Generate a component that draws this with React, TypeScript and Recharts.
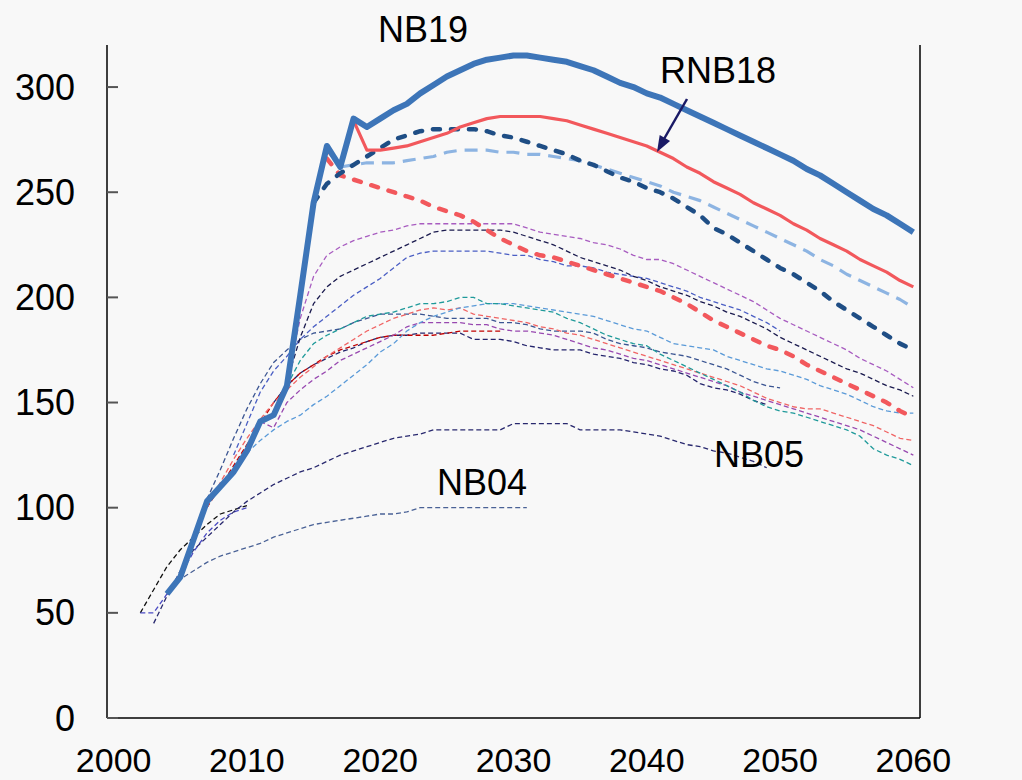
import React from 'react';
import { LineChart, Line, XAxis, YAxis } from 'recharts';

const W = 1022;
const H = 780;
const FONT = '"Liberation Sans", Arial, sans-serif';

// Tick labels
const xTicks = [2000, 2010, 2020, 2030, 2040, 2050, 2060];
const yTicks = [0, 50, 100, 150, 200, 250, 300];

// Thick series
const nb19Start = 2004;
const nb19 = [
  59, 67, 85, 103, 110, 117, 127, 141, 144, 158, 201, 245, 272, 262, 285, 281,
  285, 289, 292, 297, 301, 305, 308, 311, 313, 314,
  315, 315, 314, 313, 312, 310, 308, 305, 302, 300,
  297, 295, 292, 289, 286, 283, 280, 277, 274, 271,
  268, 265, 261, 258, 254, 250, 246, 242, 239, 235, 231,
];

const rnb18Start = 2016;
const rnb18 = [
  270, 263, 284, 270,
  270, 271, 272, 274, 276, 278, 281, 283, 285, 286,
  286, 286, 286, 285, 284, 282, 280, 278, 276, 274,
  272, 269, 266, 262, 259, 255, 252, 249, 245, 242,
  239, 235, 232, 228, 225, 222, 218, 215, 212, 208, 205,
];

const navyDashStart = 2015;
const navyDash = [
  245, 254, 259, 263, 267,
  271, 275, 277, 279, 280, 280, 280, 280, 279, 277,
  276, 274, 272, 270, 268, 265, 263, 260, 257, 255,
  252, 250, 247, 243, 239, 233, 230, 226, 222, 218,
  214, 211, 207, 203, 198, 194, 190, 186, 182, 178, 175,
];

const lightDashStart = 2017;
const lightDash = [
  262, 263, 264,
  264, 264, 265, 266, 267, 269, 270, 270, 270, 269,
  269, 268, 268, 267, 266, 265, 263, 261, 259, 257,
  255, 253, 250, 248, 246, 243, 240, 237, 234, 231,
  228, 225, 222, 218, 215, 211, 208, 205, 202, 199, 195,
];

const redDashStart = 2016;
const redDash = [
  266, 258, 256, 254,
  252, 250, 248, 246, 243, 241, 239, 236, 232, 228,
  225, 222, 220, 219, 217, 215, 213, 211, 209, 207,
  205, 203, 200, 197, 193, 189, 186, 183, 180, 177,
  175, 172, 168, 165, 162, 159, 156, 153, 150, 146, 143,
];

// Thin (older budgets)
const purpleTopStart = 2013;
const purpleTop = [
  160, 190, 210, 220, 224, 227, 229,
  231, 232, 234, 235, 235, 235, 235, 235, 235, 235,
  235, 233, 231, 230, 229, 228, 226, 225, 223, 220,
  218, 218, 216, 213, 210, 207, 204, 201, 198, 194,
  190, 187, 184, 181, 178, 175, 171, 168, 165, 161, 157,
];

const navyBlackStart = 2013;
const navyBlack = [
  160, 181, 197, 205, 210, 213, 216,
  219, 222, 225, 228, 231, 232, 232, 232, 232, 232,
  231, 229, 227, 225, 222, 219, 217, 215, 213, 210,
  208, 205, 203, 201, 198, 196, 193, 191, 188, 185,
  181, 178, 175, 172, 169, 166, 164, 161, 158, 156, 153,
];

const blueMidStart = 2009;
const blueMid = [
  125, 140, 155, 165, 172, 180, 186, 191, 196, 201, 205,
  209, 214, 219, 221, 222, 222, 222, 222, 222, 221,
  220, 220, 218, 217, 215, 215, 214, 212, 211, 210,
  209, 207, 205, 203, 200, 198, 196, 194, 191, 188, 184,
];

const tealStart = 2013;
const teal = [
  158, 170, 178, 182, 185, 188, 191,
  192, 193, 195, 197, 197, 198, 200, 200, 197, 197,
  196, 195, 194, 193, 190, 188, 185, 182, 180, 178,
  177, 173, 170, 167, 164, 161, 158, 155, 151, 148,
  146, 145, 143, 141, 139, 137, 134, 128, 125, 123, 120,
];

const lightBlueStart = 2010;
const lightBlue = [
  126, 132, 137, 141, 144, 149, 153, 158, 163, 168,
  174, 178, 184, 188, 191, 193, 195, 196, 197, 197,
  197, 196, 195, 194, 193, 192, 191, 189, 187, 185,
  184, 181, 178, 177, 176, 175, 172, 170, 168, 166,
  165, 163, 161, 158, 156, 154, 151, 148, 146, 145, 145,
];

const pinkStart = 2007;
const pink = [
  100, 112, 123, 133, 142, 150, 156, 162, 167, 172, 176, 180, 184,
  187, 190, 192, 194, 195, 194, 195, 192, 191, 190,
  189, 188, 186, 185, 183, 182, 180, 178, 176, 174,
  172, 170, 168, 166, 164, 162, 160, 158, 155, 152,
  150, 148, 147, 147, 145, 143, 141, 139, 136, 133, 132,
];

const slateStart = 2006;
const slate = [
  86, 104, 118, 133, 147, 159, 169, 175, 180, 183, 184, 185, 188, 190,
  192, 192, 192, 192, 191, 190, 190, 190, 190, 188,
  188, 187, 185, 184, 184, 184, 183, 180, 178, 177,
  176, 174, 173, 172, 170, 168, 166, 163, 160, 158, 157,
];

const purpleLowStart = 2011;
const purpleLow = [
  141, 138, 150, 156, 161, 165, 170, 173, 176,
  179, 182, 186, 188, 188, 188, 188, 187, 187, 185,
  184, 184, 183, 182, 180, 178, 176, 175, 173, 171,
  170, 168, 166, 164, 162, 160, 158, 155, 153, 151,
  149, 147, 145, 143, 141, 139, 137, 134, 131, 128, 125,
];

const darkRedStart = 2007;
const darkRed = [
  100, 110, 120, 130, 140, 150, 158, 164, 168, 172, 175, 177, 179,
  181, 182, 182, 182, 182, 183, 184, 184, 184, 184,
];

const navyLowStart = 2012;
const navyLow = [
  150, 158, 164, 168, 171, 174, 176, 179,
  181, 182, 182, 183, 183, 183, 183, 180, 180, 180,
  179, 177, 176, 175, 175, 175, 173, 172, 171, 169,
  168, 166, 165, 163, 159, 157, 156, 154, 151, 149,
];

const nb05Start = 2003;
const nb05 = [
  45, 58, 70, 80, 86, 92, 98, 103, 107, 111, 114, 117, 119, 122, 125, 127, 129,
  131, 133, 134, 135, 137, 137, 137, 137, 137, 137,
  140, 140, 140, 140, 140, 137, 137, 137, 137, 136,
  135, 134, 132, 130, 129, 127, 126, 124, 122, 119,
];

const nb04Start = 2004;
const nb04 = [
  59, 66, 70, 74, 77, 79, 81, 83, 86, 88, 90, 92, 93, 94, 95, 96,
  97, 97, 98, 100, 100, 100, 100, 100, 100, 100, 100, 100,
];

const blackEarlyStart = 2002;
const blackEarly = [50, 61, 72, 80, 86, 92, 97, 99, 101];

const blueEarlyStart = 2002;
const blueEarly = [50, 50, 59, 68, 79, 88, 94, 98, 100];

const THIN = '5 3';

const seriesList = [
  { key: 'blackEarly', start: blackEarlyStart, values: blackEarly, color: '#111111', width: 1.3, dash: THIN },
  { key: 'blueEarly', start: blueEarlyStart, values: blueEarly, color: '#4a4ac4', width: 1.3, dash: THIN },
  { key: 'nb04', start: nb04Start, values: nb04, color: '#4a6296', width: 1.3, dash: THIN },
  { key: 'nb05', start: nb05Start, values: nb05, color: '#28286e', width: 1.3, dash: THIN },
  { key: 'navyLow', start: navyLowStart, values: navyLow, color: '#24246c', width: 1.3, dash: THIN },
  { key: 'darkRed', start: darkRedStart, values: darkRed, color: '#c00000', width: 1.3, dash: THIN },
  { key: 'purpleLow', start: purpleLowStart, values: purpleLow, color: '#9848b0', width: 1.3, dash: THIN },
  { key: 'slate', start: slateStart, values: slate, color: '#3b5592', width: 1.3, dash: THIN },
  { key: 'pink', start: pinkStart, values: pink, color: '#f06464', width: 1.3, dash: THIN },
  { key: 'lightBlue', start: lightBlueStart, values: lightBlue, color: '#5a9ad8', width: 1.3, dash: THIN },
  { key: 'teal', start: tealStart, values: teal, color: '#1f9a9a', width: 1.3, dash: THIN },
  { key: 'blueMid', start: blueMidStart, values: blueMid, color: '#4a5ec4', width: 1.3, dash: THIN },
  { key: 'navyBlack', start: navyBlackStart, values: navyBlack, color: '#1a1a4e', width: 1.3, dash: THIN },
  { key: 'purpleTop', start: purpleTopStart, values: purpleTop, color: '#a85cc0', width: 1.3, dash: THIN },
  { key: 'lightDash', start: lightDashStart, values: lightDash, color: '#8db4e2', width: 3.2, dash: '13 8' },
  { key: 'redDash', start: redDashStart, values: redDash, color: '#f2585c', width: 4.5, dash: '7 11', round: true },
  { key: 'navyDash', start: navyDashStart, values: navyDash, color: '#1f4e85', width: 4.5, dash: '7 11', round: true },
  { key: 'rnb18', start: rnb18Start, values: rnb18, color: '#f2585c', width: 3.2 },
  { key: 'nb19', start: nb19Start, values: nb19, color: '#3d75b8', width: 6 },
];

const years = Array.from({ length: 59 }, (_, i) => 2002 + i);

const data = years.map((year) => {
  const row: Record<string, number | null> = { year };
  seriesList.forEach((s) => {
    const i = year - s.start;
    row[s.key] = i >= 0 && i < s.values.length ? s.values[i] : null;
  });
  return row;
});

const LeftTick = (props: any) => {
  const { x, y, payload } = props;
  return (
    <g>
      <line x1={x} x2={x + 11} y1={y} y2={y} stroke='#555' strokeWidth={2} />
      <text x={x - 32} y={y + 12.5} textAnchor='end' fontSize={36} fontFamily={FONT} fill='#000'>
        {payload.value}
      </text>
    </g>
  );
};

const RightTick = (props: any) => {
  const { x, y, payload } = props;
  return (
    <g>
      <line x1={x - 11} x2={x} y1={y} y2={y} stroke='#555' strokeWidth={2} />
      <text x={x + 31} y={y + 12.5} textAnchor='start' fontSize={36} fontFamily={FONT} fill='#000'>
        {payload.value}
      </text>
    </g>
  );
};

const BottomTick = (props: any) => {
  const { x, y, payload } = props;
  return (
    <text x={x} y={y + 54} textAnchor='middle' fontSize={34} fontFamily={FONT} fill='#000'>
      {payload.value}
    </text>
  );
};

export default function App() {
  return (
    <div
      style={{
        position: 'absolute',
        left: 0,
        top: 0,
        width: W,
        height: H,
        background: '#f8f8f8',
        overflow: 'hidden',
      }}
    >
      <LineChart width={W} height={H} data={data} margin={{ top: 45, right: 42, bottom: 2, left: 47 }}>
        <XAxis
          dataKey='year'
          type='number'
          domain={[1999.5, 2060.5]}
          ticks={xTicks}
          height={60}
          tickSize={0}
          tickMargin={0}
          tickLine={false}
          axisLine={{ stroke: '#000', strokeWidth: 1.5 }}
          tick={<BottomTick />}
          interval={0}
        />
        <YAxis
          domain={[0, 320]}
          ticks={yTicks}
          width={60}
          tickSize={0}
          tickMargin={0}
          tickLine={false}
          axisLine={{ stroke: '#000', strokeWidth: 1.5 }}
          tick={<LeftTick />}
          interval={0}
        />
        <YAxis
          yAxisId='r'
          orientation='right'
          domain={[0, 320]}
          ticks={yTicks}
          width={60}
          tickSize={0}
          tickMargin={0}
          tickLine={false}
          axisLine={{ stroke: '#000', strokeWidth: 1.5 }}
          tick={<RightTick />}
          interval={0}
        />
        {seriesList.map((s) => (
          <Line
            key={s.key}
            dataKey={s.key}
            type='linear'
            stroke={s.color}
            strokeWidth={s.width}
            strokeDasharray={s.dash}
            strokeLinecap={s.round ? 'round' : 'butt'}
            strokeLinejoin='round'
            dot={false}
            activeDot={false}
            isAnimationActive={false}
          />
        ))}
      </LineChart>

      {/* annotations */}
      <svg
        width={W}
        height={H}
        style={{ position: 'absolute', left: 0, top: 0, pointerEvents: 'none' }}
      >
        <g fontFamily={FONT} fontSize={36} fill='#000'>
          <text x={378} y={42}>NB19</text>
          <text x={660} y={83}>RNB18</text>
          <text x={437} y={495}>NB04</text>
          <text x={714} y={467}>NB05</text>
        </g>
        <line x1={687} y1={99} x2={664} y2={139} stroke='#1a1a66' strokeWidth={2.5} />
        <polygon points='657,152 670.1,141.1 659.7,135.1' fill='#1a1a66' />
      </svg>
    </div>
  );
}
